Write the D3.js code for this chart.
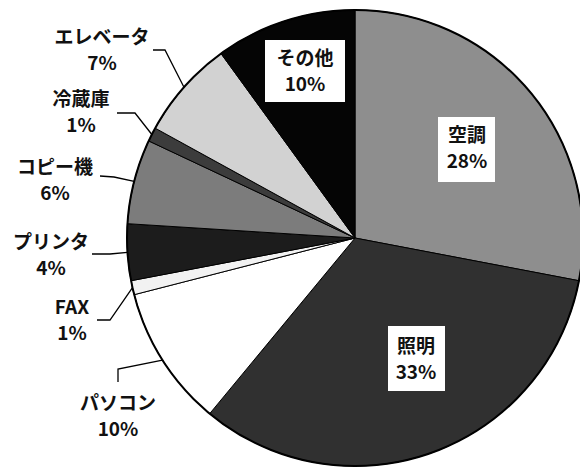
<!DOCTYPE html>
<html>
<head>
<meta charset="utf-8">
<script src="https://cdn.jsdelivr.net/npm/d3@7"></script>
<style>
  body { margin: 0; background: #fff; }
  svg { display: block; }
  text { font-family: "Noto Sans CJK JP", "Noto Sans", sans-serif; font-weight: bold; fill: #111; }
</style>
</head>
<body>
<svg id="chart"></svg>
<script>
// data (clockwise from 12 o'clock)
const categories = ["空調", "照明", "パソコン", "FAX", "プリンタ", "コピー機", "冷蔵庫", "エレベータ", "その他"];
const shares = [28, 33, 10, 1, 4, 6, 1, 7, 10];
const fills = ["#8e8e8e", "#303030", "#ffffff", "#f2f2f2", "#1c1c1c", "#7c7c7c", "#3c3c3c", "#d2d2d2", "#050505"];

// label layout: inside labels get a white box, outside labels get a leader
const insideLabels = {
  "空調": { x: 467, y: 142, box: [438, 117, 57, 65] },
  "照明": { x: 416, y: 353, box: [388, 326, 57, 65] },
  "その他": { x: 305, y: 65, box: [265, 40, 80, 62] }
};
const outsideLabels = {
  "エレベータ": { x: 102, y: 44, leader: [[153, 50], [165, 50]] },
  "冷蔵庫": { x: 81, y: 106, leader: [[117, 113], [135, 113]] },
  "コピー機": { x: 55, y: 174, leader: [[100, 176], [114, 177]] },
  "プリンタ": { x: 51, y: 249, leader: [[92, 254], [110, 254]] },
  "FAX": { x: 72, y: 314, leader: [[97, 320], [110, 320]] },
  "パソコン": { x: 118, y: 410, leader: [[118, 382], [118, 369]] }
};

const width = 580, height = 468;
const cx = 355, cy = 238, radius = 228;

const svg = d3.select("#chart")
    .attr("width", width)
    .attr("height", height);

const pie = d3.pie().sort(null).value(d => d.value);
const arcs = pie(categories.map((c, i) => ({ name: c, value: shares[i], fill: fills[i] })));

const arc = d3.arc().innerRadius(0).outerRadius(radius);
const rimArc = d3.arc().innerRadius(radius).outerRadius(radius);

const g = svg.append("g").attr("transform", `translate(${cx},${cy})`);

g.selectAll("path.slice")
    .data(arcs)
    .enter()
    .append("path")
    .attr("class", "slice")
    .attr("d", arc)
    .attr("fill", d => d.data.fill)
    .attr("stroke", "#000")
    .attr("stroke-width", 1);

// outer rim
g.append("circle")
    .attr("r", radius)
    .attr("fill", "none")
    .attr("stroke", "#000")
    .attr("stroke-width", 2);

// inside labels
arcs.filter(d => insideLabels[d.data.name]).forEach(d => {
  const L = insideLabels[d.data.name];
  svg.append("rect")
      .attr("x", L.box[0]).attr("y", L.box[1])
      .attr("width", L.box[2]).attr("height", L.box[3])
      .attr("fill", "#fff");
  const t = svg.append("text")
      .attr("text-anchor", "middle")
      .attr("font-size", 19);
  t.append("tspan").attr("x", L.x).attr("y", L.y).text(d.data.name);
  t.append("tspan").attr("x", L.x).attr("y", L.y + 26).text(d.data.value + "%");
});

// outside labels with leader lines to the rim at the slice mid angle
arcs.filter(d => outsideLabels[d.data.name]).forEach(d => {
  const L = outsideLabels[d.data.name];
  const rim = rimArc.centroid(d);
  const pts = L.leader.concat([[rim[0] + cx, rim[1] + cy]]);
  svg.append("path")
      .attr("d", d3.line()(pts))
      .attr("fill", "none")
      .attr("stroke", "#000")
      .attr("stroke-width", 1.3);
  const t = svg.append("text")
      .attr("text-anchor", "middle")
      .attr("font-size", 19);
  t.append("tspan").attr("x", L.x).attr("y", L.y).text(d.data.name);
  t.append("tspan").attr("x", L.x).attr("y", L.y + 26).text(d.data.value + "%");
});
</script>
</body>
</html>
